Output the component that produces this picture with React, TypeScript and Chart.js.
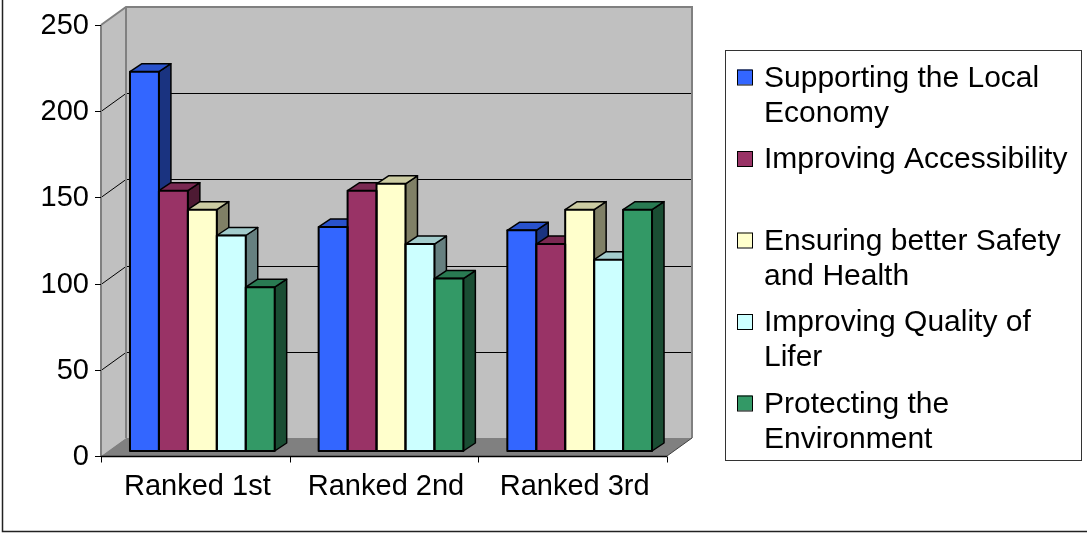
import React, { useEffect, useRef } from 'react';
import { Chart, registerables } from 'chart.js';

Chart.register(...registerables);

// ---- data ----
const CATEGORIES = ['Ranked 1st', 'Ranked 2nd', 'Ranked 3rd'];
const SERIES_NAMES = [
  'Supporting the Local Economy',
  'Improving Accessibility',
  'Ensuring better Safety and Health',
  'Improving Quality of Lifer',
  'Protecting the Environment',
];
const LOCAL_ECONOMY = [220, 130, 128];
const ACCESSIBILITY = [151, 151, 120];
const SAFETY_HEALTH = [140, 155, 140];
const QUALITY_OF_LIFE = [125, 120, 111];
const ENVIRONMENT = [95, 100, 140];
const Y_MIN = 0;
const Y_MAX = 250;
const Y_STEP = 50;

// ---- styling ----
const FILLS = ['#3366FF', '#993366', '#FFFFCC', '#CCFFFF', '#339966'];
const FONT = "'Liberation Sans', Arial, sans-serif";
const FONT_SIZE = 29;
const LEGEND_FONT_SIZE = 30;

// 3D projection offsets (pixels)
const FRONT_DX = -7; // front plane relative to the bar plane
const FRONT_DY = 5;
const WALL_DX = 25; // full depth of the floor / side wall
const WALL_DY = -18;
const BAR_DX = 12; // depth of each bar
const BAR_DY = -8;

function shade(hex: string, f: number): string {
  const n = parseInt(hex.slice(1), 16);
  const r = Math.round(((n >> 16) & 255) * f);
  const g = Math.round(((n >> 8) & 255) * f);
  const b = Math.round((n & 255) * f);
  return `rgb(${r},${g},${b})`;
}

function poly(ctx: CanvasRenderingContext2D, pts: number[][], fill?: string, stroke?: string, lw = 1) {
  ctx.beginPath();
  ctx.moveTo(pts[0][0], pts[0][1]);
  for (let i = 1; i < pts.length; i++) ctx.lineTo(pts[i][0], pts[i][1]);
  ctx.closePath();
  if (fill) {
    ctx.fillStyle = fill;
    ctx.fill();
  }
  if (stroke) {
    ctx.strokeStyle = stroke;
    ctx.lineWidth = lw;
    ctx.stroke();
  }
}

function line(ctx: CanvasRenderingContext2D, pts: number[][], color: string, lw: number) {
  ctx.beginPath();
  ctx.moveTo(pts[0][0], pts[0][1]);
  for (let i = 1; i < pts.length; i++) ctx.lineTo(pts[i][0], pts[i][1]);
  ctx.strokeStyle = color;
  ctx.lineWidth = lw;
  ctx.stroke();
}

function wrapWords(ctx: CanvasRenderingContext2D, text: string, maxWidth: number): string[] {
  const words = text.split(' ');
  const lines: string[] = [];
  let cur = '';
  for (const w of words) {
    const test = cur ? cur + ' ' + w : w;
    if (cur && ctx.measureText(test).width > maxWidth) {
      lines.push(cur);
      cur = w;
    } else {
      cur = test;
    }
  }
  if (cur) lines.push(cur);
  return lines;
}

// Walls, floor, gridlines, axes and the bar tops/sides
const box3d = {
  id: 'box3d',
  beforeDatasetsDraw(chart: any) {
    const ctx: CanvasRenderingContext2D = chart.ctx;
    const ca = chart.chartArea;
    const ys = chart.scales.y;
    const fx0 = ca.left + FRONT_DX;
    const fx1 = ca.right + FRONT_DX;
    const fy = (v: number) => ys.getPixelForValue(v) + FRONT_DY;
    const top = fy(Y_MAX);
    const bot = fy(Y_MIN);
    ctx.save();
    ctx.lineJoin = 'miter';

    // side wall
    poly(ctx, [[fx0, top], [fx0 + WALL_DX, top + WALL_DY], [fx0 + WALL_DX, bot + WALL_DY], [fx0, bot]], '#C0C0C0');
    // back wall
    poly(ctx, [[fx0 + WALL_DX, top + WALL_DY], [fx1 + WALL_DX, top + WALL_DY], [fx1 + WALL_DX, bot + WALL_DY], [fx0 + WALL_DX, bot + WALL_DY]], '#C0C0C0');

    // gridlines
    for (let v = Y_MIN + Y_STEP; v < Y_MAX; v += Y_STEP) {
      const y = Math.round(fy(v)) + 0.5;
      line(ctx, [[fx0, y], [fx0 + WALL_DX, y + WALL_DY], [fx1 + WALL_DX, y + WALL_DY]], '#000000', 1);
    }

    // wall edges
    line(ctx, [[fx0, top], [fx0 + WALL_DX, top + WALL_DY], [fx1 + WALL_DX, top + WALL_DY], [fx1 + WALL_DX, bot + WALL_DY]], '#808080', 2);
    line(ctx, [[fx0 + WALL_DX, top + WALL_DY], [fx0 + WALL_DX, bot + WALL_DY]], '#808080', 2);
    line(ctx, [[fx0, top], [fx0, bot]], '#808080', 2);

    // floor
    poly(ctx, [[fx0, bot], [fx1, bot], [fx1 + WALL_DX, bot + WALL_DY], [fx0 + WALL_DX, bot + WALL_DY]], '#808080');
    line(ctx, [[fx1, bot], [fx1 + WALL_DX, bot + WALL_DY]], '#404040', 1);

    // value axis ticks
    for (let v = Y_MIN; v <= Y_MAX; v += Y_STEP) {
      const y = Math.round(fy(v)) + 0.5;
      line(ctx, [[fx0 - 6, y], [fx0, y]], '#000000', 1);
    }
    // category axis with ticks
    const by = Math.round(bot) + 0.5;
    line(ctx, [[fx0, by], [fx1, by]], '#000000', 1.5);
    const n = CATEGORIES.length;
    for (let i = 0; i <= n; i++) {
      const x = Math.round(fx0 + ((fx1 - fx0) * i) / n) + 0.5;
      line(ctx, [[x, by], [x, by + 6]], '#000000', 1);
    }

    // bar tops and right-hand sides
    ctx.lineJoin = 'round';
    for (let c = 0; c < n; c++) {
      chart.data.datasets.forEach((ds: any, d: number) => {
        const el = chart.getDatasetMeta(d).data[c];
        const { x, y, base, width } = el.getProps(['x', 'y', 'base', 'width'], true);
        const L = x - width / 2;
        const R = x + width / 2;
        const fill = FILLS[d];
        poly(ctx, [[R, y], [R + BAR_DX, y + BAR_DY], [R + BAR_DX, base + BAR_DY], [R, base]], shade(fill, 0.5), '#000000', 1.5);
        poly(ctx, [[L, y], [R, y], [R + BAR_DX, y + BAR_DY], [L + BAR_DX, y + BAR_DY]], shade(fill, 0.8), '#000000', 1.5);
      });
    }
    ctx.restore();
  },
  afterDatasetsDraw(chart: any) {
    // outline of the bar fronts
    const ctx: CanvasRenderingContext2D = chart.ctx;
    ctx.save();
    ctx.lineJoin = 'round';
    chart.data.datasets.forEach((_ds: any, d: number) => {
      chart.getDatasetMeta(d).data.forEach((el: any) => {
        const { x, y, base, width } = el.getProps(['x', 'y', 'base', 'width'], true);
        ctx.strokeStyle = '#000000';
        ctx.lineWidth = 2;
        ctx.strokeRect(x - width / 2, y, width, base - y);
      });
    });
    ctx.restore();
  },
  afterDraw(chart: any) {
    const ctx: CanvasRenderingContext2D = chart.ctx;
    ctx.save();
    // outer frame
    line(ctx, [[2.5, 0], [2.5, 531.5], [chart.width, 531.5]], '#222222', 1.5);

    // legend
    ctx.strokeStyle = '#333333';
    ctx.lineWidth = 1;
    ctx.strokeRect(725.5, 50.5, 356, 410);
    ctx.font = `${LEGEND_FONT_SIZE}px ${FONT}`;
    ctx.textBaseline = 'alphabetic';
    ctx.textAlign = 'left';
    chart.data.datasets.forEach((ds: any, d: number) => {
      const baseY = 86.5 + d * 81.5;
      ctx.fillStyle = FILLS[d];
      ctx.fillRect(737, baseY - 17, 15, 15);
      ctx.strokeStyle = '#000000';
      ctx.lineWidth = 1;
      ctx.strokeRect(737.5, baseY - 16.5, 15, 15);
      ctx.fillStyle = '#000000';
      wrapWords(ctx, ds.label, 312).forEach((ln, k) => {
        ctx.fillText(ln, 764, baseY + k * 35);
      });
    });
    ctx.restore();
  },
};

export default function App() {
  const ref = useRef<HTMLCanvasElement>(null);

  useEffect(() => {
    if (!ref.current) return;
    const series = [LOCAL_ECONOMY, ACCESSIBILITY, SAFETY_HEALTH, QUALITY_OF_LIFE, ENVIRONMENT];
    const chart = new Chart(ref.current, {
      type: 'bar',
      data: {
        labels: CATEGORIES,
        datasets: series.map((values, i) => ({
          label: SERIES_NAMES[i],
          data: values,
          backgroundColor: FILLS[i],
          borderWidth: 0,
          categoryPercentage: 0.767,
          barPercentage: 1,
        })),
      },
      options: {
        responsive: false,
        animation: false,
        events: [],
        layout: { padding: { left: 0, top: 20, right: 413, bottom: 0 } },
        plugins: { legend: { display: false }, tooltip: { enabled: false } },
        scales: {
          x: {
            grid: { display: false, drawTicks: false },
            border: { display: false },
            ticks: {
              color: '#000000',
              font: { family: FONT, size: FONT_SIZE },
              padding: 19,
              labelOffset: -5,
              maxRotation: 0,
              autoSkip: false,
            },
            afterFit: (s: any) => {
              s.height = 83;
              s.paddingLeft = 0;
              s.paddingRight = 0;
            },
          },
          y: {
            min: Y_MIN,
            max: Y_MAX,
            grid: { display: false, drawTicks: false },
            border: { display: false },
            ticks: {
              stepSize: Y_STEP,
              color: '#000000',
              font: { family: FONT, size: FONT_SIZE },
              padding: 19,
              labelOffset: 6,
              autoSkip: false,
            },
            afterFit: (s: any) => {
              s.width = 108;
              s.paddingTop = 0;
              s.paddingBottom = 0;
            },
          },
        },
      },
      plugins: [box3d],
    });
    return () => chart.destroy();
  }, []);

  return (
    <div style={{ position: 'fixed', left: 0, top: 0, width: 1087, height: 534, background: '#ffffff' }}>
      <canvas ref={ref} width={1087} height={534} style={{ display: 'block' }} />
    </div>
  );
}
